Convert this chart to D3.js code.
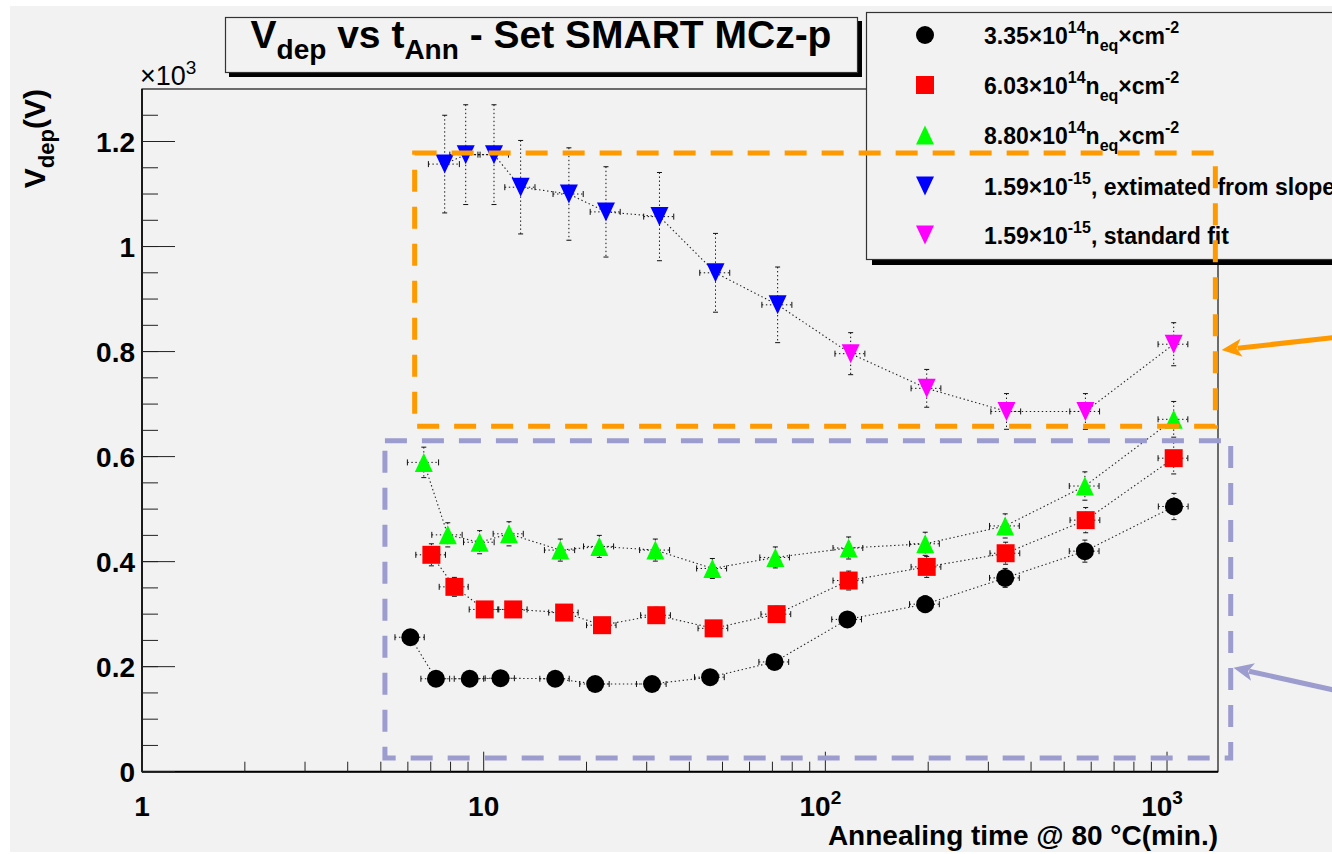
<!DOCTYPE html>
<html>
<head>
<meta charset="utf-8">
<script src="https://cdn.jsdelivr.net/npm/d3@7"></script>
<style>
  html, body { margin: 0; padding: 0; background: #ffffff; }
  svg { display: block; }
  text { font-family: "Liberation Sans", Arial, Helvetica, sans-serif; }
</style>
</head>
<body>
<svg id="chart" width="1332" height="854"></svg>
<script>
// ---------------- DATA ----------------
// annealing time (min) and depletion voltage (x10^3 V)
const blackT = [6.1, 7.25, 9.1, 11.2, 16.2, 21.2, 31.1, 46, 71, 116, 196, 336, 575, 1048];
const blackV = [0.256, 0.177, 0.177, 0.178, 0.177, 0.167, 0.167, 0.180, 0.209, 0.290, 0.319, 0.369, 0.420, 0.505];
const blackTErr = [0.6, 0.7, 0.9, 1.1, 1.6, 2.1, 3.1, 4.6, 7.1, 11.6, 19.6, 33.6, 57.5, 104.8];
const blackVErr = [0.013, 0.009, 0.009, 0.009, 0.009, 0.008, 0.008, 0.009, 0.010, 0.015, 0.016, 0.018, 0.021, 0.025];

const redT = [7.03, 8.21, 10.07, 12.2, 17.2, 22.2, 32.0, 47.1, 72.0, 117, 198, 337, 578, 1046];
const redV = [0.413, 0.352, 0.309, 0.309, 0.303, 0.279, 0.298, 0.273, 0.300, 0.364, 0.390, 0.416, 0.479, 0.597];
const redTErr = [0.7, 0.8, 1.0, 1.2, 1.7, 2.2, 3.2, 4.7, 7.2, 11.7, 19.8, 33.7, 57.8, 104.6];
const redVErr = [0.021, 0.018, 0.015, 0.015, 0.015, 0.014, 0.015, 0.014, 0.015, 0.018, 0.020, 0.021, 0.024, 0.030];

const greenT = [6.68, 7.85, 9.73, 11.86, 16.76, 21.8, 31.8, 46.7, 71.4, 117, 196, 336, 575, 1046];
const greenV = [0.589, 0.451, 0.437, 0.453, 0.422, 0.429, 0.422, 0.387, 0.408, 0.426, 0.434, 0.468, 0.544, 0.671];
const greenTErr = [0.7, 0.8, 1.0, 1.2, 1.7, 2.2, 3.2, 4.7, 7.1, 11.7, 19.6, 33.6, 57.5, 104.6];
const greenVErr = [0.029, 0.023, 0.022, 0.023, 0.021, 0.021, 0.021, 0.019, 0.020, 0.021, 0.022, 0.023, 0.027, 0.034];

const blueT = [7.69, 8.86, 10.72, 12.83, 17.76, 22.8, 32.7, 47.7, 72.5];
const blueV = [1.157, 1.175, 1.175, 1.113, 1.100, 1.066, 1.057, 0.950, 0.889];
const blueTErr = [0.8, 0.9, 1.1, 1.3, 1.8, 2.3, 3.3, 4.8, 7.3];
const blueVErr = [0.093, 0.095, 0.095, 0.089, 0.088, 0.086, 0.084, 0.075, 0.072];

const magentaT = [118.6, 198, 339, 577, 1046];
const magentaV = [0.796, 0.730, 0.686, 0.686, 0.814];
const magentaTErr = [11.9, 19.8, 33.9, 57.7, 104.6];
const magentaVErr = [0.040, 0.036, 0.034, 0.034, 0.041];

const xTickLabels = ["1", "10", "10^2", "10^3"];
const xTickValues = [1, 10, 100, 1000];
const yTickValues = [0, 0.2, 0.4, 0.6, 0.8, 1.0, 1.2];
const yTickLabels = ["0", "0.2", "0.4", "0.6", "0.8", "1", "1.2"];

const legendLabels = [
  [["3.35×10"], ["14", "sup"], ["n"], ["eq", "sub"], ["×cm"], ["-2", "sup"]],
  [["6.03×10"], ["14", "sup"], ["n"], ["eq", "sub"], ["×cm"], ["-2", "sup"]],
  [["8.80×10"], ["14", "sup"], ["n"], ["eq", "sub"], ["×cm"], ["-2", "sup"]],
  [["1.59×10"], ["-15", "sup"], [", extimated from slope"]],
  [["1.59×10"], ["-15", "sup"], [", standard fit"]]
];

// annotation boxes (data coordinates: [tMin, tMax, vMin, vMax])
const orangeBox = [6.28, 1385, 0.658, 1.178];
const purpleBox = [5.14, 1536, 0.026, 0.630];
// annotation arrows: [tFrom, vFrom, tTo, vTo]
const orangeArrow = [3100, 0.827, 1445, 0.803];
const purpleArrow = [3100, 0.155, 1565, 0.198];

// ---------------- SETUP ----------------
const svg = d3.select("#chart");
const W = 1332, H = 854;
const L = 142, R = 1218, T = 89, B = 771.7;

svg.append("rect").attr("x", 10).attr("y", 6).attr("width", W - 10).attr("height", H - 8)
  .attr("fill", "#f2f2f2");

const x = d3.scaleLog().domain([1, 1410]).range([L, R]);
const y = d3.scaleLinear().domain([0, 1.3]).range([B, T]);

function rich(sel, segs, size, smallSize, supUp, subDown) {
  let cur = 0;
  segs.forEach(s => {
    const kind = s[1];
    const off = kind === "sup" ? -supUp : kind === "sub" ? subDown : 0;
    sel.append("tspan").attr("dy", off - cur)
      .attr("font-size", kind ? smallSize : size).text(s[0]);
    cur = off;
  });
}

// ---------------- AXES ----------------
const g = svg.append("g");
g.append("rect").attr("x", L).attr("y", T).attr("width", R - L).attr("height", B - T)
  .attr("fill", "none").attr("stroke", "#111").attr("stroke-width", 1.2);
g.append("line").attr("x1", L).attr("x2", R).attr("y1", B).attr("y2", B)
  .attr("stroke", "#000").attr("stroke-width", 2);
g.append("line").attr("x1", L).attr("x2", L).attr("y1", T).attr("y2", B)
  .attr("stroke", "#000").attr("stroke-width", 1.5);

// y ticks
const yMinor = d3.range(0, 1.3001, 0.05).filter(v => v > 0 && v < 1.299);
g.selectAll(".ymin").data(yMinor).enter().append("line")
  .attr("x1", L).attr("x2", L + 16).attr("y1", d => y(d)).attr("y2", d => y(d))
  .attr("stroke", "#222").attr("stroke-width", 1);
g.selectAll(".ymaj").data(yTickValues).enter().append("line")
  .attr("x1", L).attr("x2", L + 33).attr("y1", d => y(d)).attr("y2", d => y(d))
  .attr("stroke", "#222").attr("stroke-width", 1);
g.selectAll(".ylab").data(yTickValues).enter().append("text")
  .attr("x", L - 7).attr("y", d => y(d) + 10)
  .attr("text-anchor", "end").attr("font-size", 28).attr("font-weight", "bold")
  .text((d, i) => yTickLabels[i]);

// x ticks
const xMinor = [];
[1, 10, 100, 1000].forEach(dec => { for (let k = 2; k <= 9; k++) { const v = dec * k; if (v < 1410) xMinor.push(v); } });
g.selectAll(".xmin").data(xMinor).enter().append("line")
  .attr("x1", d => x(d)).attr("x2", d => x(d)).attr("y1", B).attr("y2", B - 10)
  .attr("stroke", "#222").attr("stroke-width", 1);
g.selectAll(".xmaj").data(xTickValues).enter().append("line")
  .attr("x1", d => x(d)).attr("x2", d => x(d)).attr("y1", B).attr("y2", B - 20)
  .attr("stroke", "#222").attr("stroke-width", 1);
xTickValues.forEach((v, i) => {
  const lab = xTickLabels[i];
  const parts = lab.split("^");
  const t = g.append("text").attr("x", x(v) - (parts.length > 1 ? 5 : 0)).attr("y", 816)
    .attr("text-anchor", "middle").attr("font-size", 28).attr("font-weight", "bold");
  if (parts.length > 1) rich(t, [[parts[0]], [parts[1], "sup"]], 28, 19, 12, 0);
  else t.text(lab);
});

// axis titles
g.append("text").attr("x", R).attr("y", 845).attr("text-anchor", "end")
  .attr("font-size", 28).attr("font-weight", "bold").text("Annealing time @ 80 °C(min.)");

const yt = g.append("text").attr("transform", `translate(45,${T}) rotate(-90)`)
  .attr("text-anchor", "end").attr("font-size", 30).attr("font-weight", "bold");
rich(yt, [["V"], ["dep", "sub"], ["(V)"]], 30, 22, 0, 9);

const e3 = g.append("text").attr("x", L - 2).attr("y", 85).attr("font-size", 27);
rich(e3, [["×10"], ["3", "sup"]], 27, 19, 11, 0);

// ---------------- DATA MARKS ----------------
const dotted = "1.4 2.6";
const lineGen = d3.line().x(d => x(d[0])).y(d => y(d[1]));

const up = "M0,-9.5L9,9.5L-9,9.5Z";
const down = "M0,9.5L9,-9.5L-9,-9.5Z";
const circle = d3.symbol().type(d3.symbolCircle).size(Math.PI * 81)();
const square = "M-9,-9H9V9H-9Z";

const series = [
  { t: blackT, v: blackV, te: blackTErr, ve: blackVErr, color: "#000000", shape: circle },
  { t: redT, v: redV, te: redTErr, ve: redVErr, color: "#ff0000", shape: square },
  { t: greenT, v: greenV, te: greenTErr, ve: greenVErr, color: "#00ff00", shape: up },
  { t: blueT, v: blueV, te: blueTErr, ve: blueVErr, color: "#0000ff", shape: down },
  { t: magentaT, v: magentaV, te: magentaTErr, ve: magentaVErr, color: "#ff00ff", shape: down }
];

const lineSets = [
  d3.zip(blackT, blackV),
  d3.zip(redT, redV),
  d3.zip(greenT, greenV),
  d3.zip(blueT.concat(magentaT), blueV.concat(magentaV))
];
const dg = svg.append("g");
lineSets.forEach(pts => {
  dg.append("path").attr("d", lineGen(pts)).attr("fill", "none")
    .attr("stroke", "#222").attr("stroke-width", 1.1).attr("stroke-dasharray", dotted);
});

series.forEach(s => {
  const pts = s.t.map((t, i) => ({ t, v: s.v[i], te: s.te[i], ve: s.ve[i] }));
  const eg = dg.append("g").attr("stroke", "#111").attr("stroke-width", 1);
  pts.forEach(p => {
    const cx = x(p.t), cy = y(p.v);
    const x0 = x(p.t - p.te), x1 = x(p.t + p.te);
    const y0 = y(p.v + p.ve), y1 = y(p.v - p.ve);
    eg.append("line").attr("x1", x0).attr("x2", x1).attr("y1", cy).attr("y2", cy)
      .attr("stroke-dasharray", dotted);
    eg.append("line").attr("x1", cx).attr("x2", cx).attr("y1", y0).attr("y2", y1)
      .attr("stroke-dasharray", dotted);
    [x0, x1].forEach(xx => eg.append("line").attr("x1", xx).attr("x2", xx)
      .attr("y1", cy - 3).attr("y2", cy + 3));
    [y0, y1].forEach(yy => eg.append("line").attr("x1", cx - 2.5).attr("x2", cx + 2.5)
      .attr("y1", yy).attr("y2", yy));
  });
  dg.append("g").selectAll("path").data(pts).enter().append("path")
    .attr("d", s.shape)
    .attr("transform", d => `translate(${x(d.t)},${y(d.v)})`)
    .attr("fill", s.color);
});

// ---------------- TITLE ----------------
svg.append("rect").attr("x", 229).attr("y", 21).attr("width", 633).attr("height", 56).attr("fill", "#000");
svg.append("rect").attr("x", 225.5).attr("y", 17.5).attr("width", 632).attr("height", 55)
  .attr("fill", "#f2f2f2").attr("stroke", "#333").attr("stroke-width", 1.2);
const tt = svg.append("text").attr("x", 541).attr("y", 48).attr("text-anchor", "middle")
  .attr("font-size", 39).attr("font-weight", "bold");
rich(tt, [["V"], ["dep", "sub"], [" vs t"], ["Ann", "sub"], [" - Set SMART MCz-p"]], 39, 28, 0, 11);

// ---------------- LEGEND ----------------
svg.append("rect").attr("x", 872).attr("y", 17).attr("width", 480).attr("height", 248).attr("fill", "#000");
svg.append("rect").attr("x", 866.5).attr("y", 12.5).attr("width", 480).attr("height", 247)
  .attr("fill", "#f2f2f2").attr("stroke", "#333").attr("stroke-width", 1.2);
const legendShapes = [circle, square, up, down, down];
const legendColors = ["#000000", "#ff0000", "#00ff00", "#0000ff", "#ff00ff"];
const rowY = [35, 85, 135, 186, 235];
legendLabels.forEach((segs, i) => {
  svg.append("path").attr("d", legendShapes[i])
    .attr("transform", `translate(925,${rowY[i]})`).attr("fill", legendColors[i]);
  const lt = svg.append("text").attr("x", 984).attr("y", rowY[i] + 9)
    .attr("font-size", 23).attr("font-weight", "bold");
  rich(lt, segs, 23, 16, 11, 7);
});

// ---------------- ANNOTATIONS ----------------
function dashedBox(b, color) {
  svg.append("rect").attr("x", x(b[0])).attr("y", y(b[3]))
    .attr("width", x(b[1]) - x(b[0])).attr("height", y(b[2]) - y(b[3]))
    .attr("fill", "none").attr("stroke", color).attr("stroke-width", 5)
    .attr("stroke-dasharray", "22 15");
}
dashedBox(orangeBox, "#ff9900");
dashedBox(purpleBox, "#9c9ccf");

function arrow(a, color) {
  const x0 = x(a[0]), y0 = y(a[1]), x1 = x(a[2]), y1 = y(a[3]);
  const ang = Math.atan2(y1 - y0, x1 - x0);
  const len = 20, half = 9;
  const bx = x1 - len * Math.cos(ang), by = y1 - len * Math.sin(ang);
  svg.append("line").attr("x1", x0).attr("y1", y0).attr("x2", bx + 4 * Math.cos(ang)).attr("y2", by + 4 * Math.sin(ang))
    .attr("stroke", color).attr("stroke-width", 5);
  const p = [[x1, y1],
    [bx + half * Math.sin(ang), by - half * Math.cos(ang)],
    [bx + 5 * Math.cos(ang), by + 5 * Math.sin(ang)],
    [bx - half * Math.sin(ang), by + half * Math.cos(ang)]];
  svg.append("path").attr("d", "M" + p.map(q => q.join(",")).join("L") + "Z").attr("fill", color);
}
arrow(orangeArrow, "#ff9900");
arrow(purpleArrow, "#9c9ccf");
</script>
</body>
</html>
